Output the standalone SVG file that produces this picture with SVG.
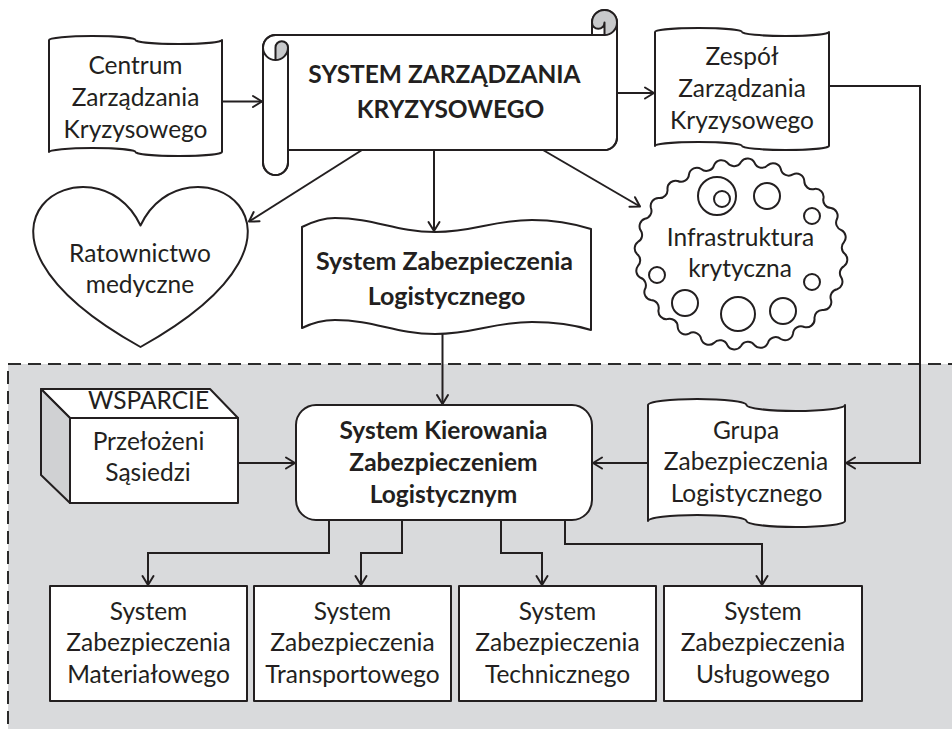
<svg xmlns="http://www.w3.org/2000/svg" width="952" height="729" viewBox="0 0 952 729">
  <style>
    .shape { fill: #ffffff; stroke: #231f20; stroke-width: 2; stroke-linejoin: round; }
    .shade { fill: #c8c9cb; stroke: none; }
    .line  { fill: none; stroke: #231f20; stroke-width: 2; stroke-linejoin: round; stroke-linecap: round; }
    .conn  { fill: none; stroke: #231f20; stroke-width: 2; marker-end: url(#arrow); }
    .t { font-family: "Lato", "Liberation Sans", sans-serif; font-size: 24.5px; fill: #231f20; text-anchor: middle; }
    .b { font-family: "Lato", "Liberation Sans", sans-serif; font-size: 24.5px; font-weight: bold; fill: #231f20; text-anchor: middle; }
  </style>
  <defs>
    <marker id="arrow" markerUnits="userSpaceOnUse" markerWidth="14" markerHeight="14" refX="11" refY="7" orient="auto" overflow="visible">
      <path d="M2,1.5 L11,7 L2,12.5" fill="none" stroke="#231f20" stroke-width="2" stroke-linecap="round" stroke-linejoin="round"/>
    </marker>
  </defs>

  <rect width="952" height="729" fill="#ffffff"/>

  <!-- logistics support area -->
  <rect id="area" x="8" y="364" width="970" height="400" fill="#d9dadc" stroke="#2b2b2b" stroke-width="2" stroke-dasharray="13 7"/>

  <!-- connectors -->
  <g id="connectors">
    <path class="conn" d="M222,101.5 H262"/>
    <path class="conn" d="M617,93 H654"/>
    <path class="conn" d="M362,150 L249,221.5"/>
    <path class="conn" d="M543,150 L640,206.5"/>
    <path class="conn" d="M434,150 V231"/>
    <path class="conn" d="M442.5,333 V404"/>
    <path class="conn" d="M238,463 H295"/>
    <path class="conn" d="M648,463 H593"/>
    <path class="conn" d="M829,86 H920 V463 H846"/>
    <path class="conn" d="M329,520 V553 H148 V585"/>
    <path class="conn" d="M402,520 V553 H361 V585"/>
    <path class="conn" d="M501,520 V553 H542 V585"/>
    <path class="conn" d="M565,520 V544 H762 V585"/>
  </g>

  <!-- Centrum Zarządzania Kryzysowego -->
  <g id="centrum">
    <path class="shape" d="M49,40 A43.25,4 0 0 1 135.5,40 A43.25,4 0 0 0 222,40 L222,152 A43.25,4 0 0 1 135.5,152 A43.25,4 0 0 0 49,152 Z"/>
    <text class="t" x="135.5" y="74">Centrum</text>
    <text class="t" x="135.5" y="106">Zarządzania</text>
    <text class="t" x="135.5" y="138">Kryzysowego</text>
  </g>

  <!-- System Zarządzania Kryzysowego (scroll) -->
  <g id="system-zarzadzania">
    <path class="shape" d="M263,47.5 A12.5,12.5 0 0 1 275.5,35 L592,35 L592,22.5 A12.5,12.5 0 0 1 617,22.5 L617,137.5 A12.5,12.5 0 0 1 604.5,150 L288,150 L288,162.5 A12.5,12.5 0 0 1 263,162.5 Z"/>
    <path class="shade" d="M275.5,60 A12.5,12.5 0 0 0 288,47.5 A6.25,6.25 0 0 0 275.5,47.5 Z"/>
    <path class="shade" d="M604.5,35 A12.5,12.5 0 1 0 592,22.5 A6.25,6.25 0 0 0 604.5,22.5 Z"/>
    <path class="line" d="M592,35 L604.5,35 A12.5,12.5 0 0 0 617,22.5"/>
    <path class="line" d="M604.5,35 L604.5,22.5 A6.25,6.25 0 0 1 592,22.5"/>
    <path class="line" d="M275.5,60 L275.5,47.5 A6.25,6.25 0 0 1 288,47.5 A12.5,12.5 0 0 1 263,47.5"/>
    <path class="line" d="M288,47.5 L288,150"/>
    <path class="line" d="M263,47.5 A12.5,12.5 0 0 1 275.5,35 L592,35 L592,22.5 A12.5,12.5 0 0 1 617,22.5 L617,137.5 A12.5,12.5 0 0 1 604.5,150 L288,150 L288,162.5 A12.5,12.5 0 0 1 263,162.5 Z"/>
    <text class="b" x="444.5" y="83">SYSTEM ZARZĄDZANIA</text>
    <text class="b" x="450.5" y="118">KRYZYSOWEGO</text>
  </g>

  <!-- Zespół Zarządzania Kryzysowego -->
  <g id="zespol">
    <path class="shape" d="M655,32 A43.5,4 0 0 1 742,32 A43.5,4 0 0 0 829,32 L829,146 A43.5,4 0 0 1 742,146 A43.5,4 0 0 0 655,146 Z"/>
    <text class="t" x="742" y="65">Zespół</text>
    <text class="t" x="742" y="97">Zarządzania</text>
    <text class="t" x="742" y="129">Kryzysowego</text>
  </g>

  <!-- Ratownictwo medyczne (heart) -->
  <g id="ratownictwo">
    <path class="shape" d="M140.5,225.5 C184.9,131 357.9,225.5 140.5,347 C-76.9,225.5 96.1,131 140.5,225.5 Z"/>
    <text class="t" x="140" y="262">Ratownictwo</text>
    <text class="t" x="140" y="293">medyczne</text>
  </g>

  <!-- System Zabezpieczenia Logistycznego -->
  <g id="szl">
    <path class="shape" d="M302,227 C312,222 322,218 335,218 C375,218 395,232 435,232 C475,232 492,220 532,220 C555,220 575,224 591,229 L591,330 C575,325 555,322 532,322 C492,322 475,334 435,334 C395,334 375,320 335,320 C322,320 312,323 302,328 Z"/>
    <text class="b" x="444.5" y="270" style="font-size:25px">System Zabezpieczenia</text>
    <text class="b" x="446.5" y="305" style="font-size:25px">Logistycznego</text>
  </g>

  <!-- Infrastruktura krytyczna -->
  <g id="infrastruktura">
    <path class="shape" d="M845,254 A8,8 0 0 1 844.11,241.99 A8,8 0 0 0 841.46,230.19 A8,8 0 0 1 837.08,218.79 A8,8 0 0 0 831.07,208 A8,8 0 0 1 823.51,197.99 A8,8 0 0 0 814.54,188.95 A8,8 0 0 1 804.31,181.01 A8,8 0 0 0 793,174.33 A8,8 0 0 1 780.8,169 A8,8 0 0 0 767.92,165.13 A8,8 0 0 1 754.58,162.79 A8,8 0 0 0 741,162 A8,8 0 0 1 727.42,162.79 A8,8 0 0 0 714.08,165.13 A8,8 0 0 1 701.2,169 A8,8 0 0 0 689,174.33 A8,8 0 0 1 677.69,181.01 A8,8 0 0 0 667.46,188.95 A8,8 0 0 1 658.49,197.99 A8,8 0 0 0 650.93,208 A8,8 0 0 1 644.92,218.79 A8,8 0 0 0 640.54,230.19 A8,8 0 0 1 637.89,241.99 A8,8 0 0 0 637,254 A8,8 0 0 1 637.89,266.01 A8,8 0 0 0 640.54,277.81 A8,8 0 0 1 644.92,289.21 A8,8 0 0 0 650.93,300 A8,8 0 0 1 658.49,310.01 A8,8 0 0 0 667.46,319.05 A8,8 0 0 1 677.69,326.99 A8,8 0 0 0 689,333.67 A8,8 0 0 1 701.2,339 A8,8 0 0 0 714.08,342.87 A8,8 0 0 1 727.42,345.21 A8,8 0 0 0 741,346 A8,8 0 0 1 754.58,345.21 A8,8 0 0 0 767.92,342.87 A8,8 0 0 1 780.8,339 A8,8 0 0 0 793,333.67 A8,8 0 0 1 804.31,326.99 A8,8 0 0 0 814.54,319.05 A8,8 0 0 1 823.51,310.01 A8,8 0 0 0 831.07,300 A8,8 0 0 1 837.08,289.21 A8,8 0 0 0 841.46,277.81 A8,8 0 0 1 844.11,266.01 A8,8 0 0 0 845,254 Z"/>
    <g class="line">
      <circle cx="717" cy="196" r="19"/>
      <circle cx="722" cy="199" r="8"/>
      <circle cx="767" cy="196" r="13"/>
      <circle cx="812" cy="216" r="8"/>
      <circle cx="657" cy="275" r="8"/>
      <circle cx="812" cy="282" r="8"/>
      <circle cx="685" cy="303" r="13"/>
      <circle cx="738" cy="314" r="17"/>
      <circle cx="783" cy="311" r="13"/>
    </g>
    <text class="t" x="740.5" y="246">Infrastruktura</text>
    <text class="t" x="740" y="277">krytyczna</text>
  </g>

  <!-- WSPARCIE: Przełożeni, Sąsiedzi -->
  <g id="wsparcie">
    <path class="shape" d="M41,389 L210,389 L238,418 L70,418 Z"/>
    <path class="shape" style="fill:#d0d1d3" d="M41,389 L70,418 L70,503 L41,475 Z"/>
    <rect class="shape" x="70" y="418" width="168" height="85"/>
    <text class="t" x="148.5" y="409">WSPARCIE</text>
    <text class="t" x="148.5" y="450">Przełożeni</text>
    <text class="t" x="148" y="481">Sąsiedzi</text>
  </g>

  <!-- System Kierowania Zabezpieczeniem Logistycznym -->
  <g id="kierowanie">
    <rect class="shape" x="296" y="405" width="296" height="115" rx="20" ry="20"/>
    <text class="b" x="443.5" y="439">System Kierowania</text>
    <text class="b" x="443.5" y="471">Zabezpieczeniem</text>
    <text class="b" x="443.5" y="503">Logistycznym</text>
  </g>

  <!-- Grupa Zabezpieczenia Logistycznego -->
  <g id="grupa">
    <path class="shape" d="M648,405 A49.25,6 0 0 1 746.5,405 A49.25,6 0 0 0 845,405 L845,521 A49.25,6 0 0 1 746.5,521 A49.25,6 0 0 0 648,521 Z"/>
    <text class="t" x="746" y="439">Grupa</text>
    <text class="t" x="746" y="470">Zabezpieczenia</text>
    <text class="t" x="746.5" y="502">Logistycznego</text>
  </g>

  <!-- subsystems -->
  <g id="materialowe">
    <rect class="shape" x="50" y="586" width="197" height="115"/>
    <text class="t" x="148.5" y="620">System</text>
    <text class="t" x="148.5" y="651">Zabezpieczenia</text>
    <text class="t" x="148.5" y="683">Materiałowego</text>
  </g>
  <g id="transportowe">
    <rect class="shape" x="254" y="586" width="197" height="115"/>
    <text class="t" x="352.5" y="620">System</text>
    <text class="t" x="352.5" y="651">Zabezpieczenia</text>
    <text class="t" x="352.5" y="683">Transportowego</text>
  </g>
  <g id="techniczne">
    <rect class="shape" x="459" y="586" width="197" height="115"/>
    <text class="t" x="557.5" y="620">System</text>
    <text class="t" x="557.5" y="651">Zabezpieczenia</text>
    <text class="t" x="557.5" y="683">Technicznego</text>
  </g>
  <g id="uslugowe">
    <rect class="shape" x="664" y="586" width="198" height="115"/>
    <text class="t" x="763" y="620">System</text>
    <text class="t" x="763" y="651">Zabezpieczenia</text>
    <text class="t" x="763" y="683">Usługowego</text>
  </g>
</svg>
